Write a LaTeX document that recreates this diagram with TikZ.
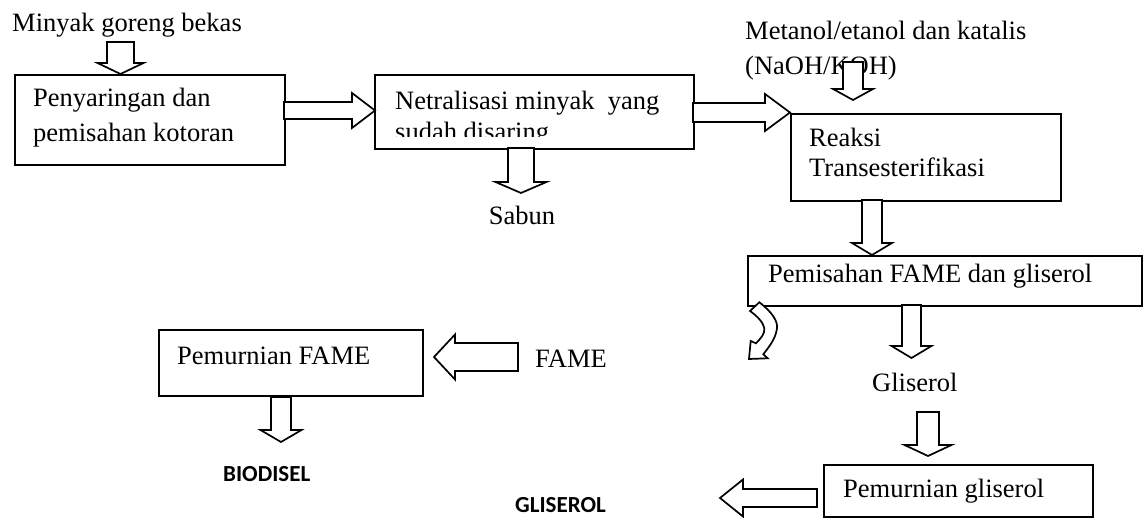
\documentclass[tikz,border=0pt]{standalone}
\usepackage{fontspec}
\setmainfont{Liberation Serif}
\newfontfamily\calfont{Carlito}
\tikzset{
  blk/.style={draw=black, line width=1.7pt, fill=white, line join=miter},
  boxst/.style={draw=black, line width=1.8pt, rectangle, inner sep=0pt, anchor=north west},
  txt/.style={inner sep=0pt, anchor=base west, font=\fontsize{26.5}{30}\selectfont},
  btxt/.style={inner sep=0pt, anchor=base west, font=\calfont\bfseries\fontsize{23}{27}\selectfont}
}
% down block arrow: cx, half shaft, ytop, yhead, half head, ytip
\newcommand{\bdown}[6]{\draw[blk] ({#1-#2},#3) -- ({#1+#2},#3) -- ({#1+#2},#4) -- ({#1+#5},#4) -- (#1,#6) -- ({#1-#5},#4) -- ({#1-#2},#4) -- cycle;}
% horizontal block arrow: cy, half shaft, xtail, xhead, half head, xtip
\newcommand{\bhor}[6]{\draw[blk] (#3,{#1-#2}) -- (#4,{#1-#2}) -- (#4,{#1-#5}) -- (#6,#1) -- (#4,{#1+#5}) -- (#4,{#1+#2}) -- (#3,{#1+#2}) -- cycle;}
\begin{document}
\begin{tikzpicture}[x=1pt,y=-1pt]
\useasboundingbox (0,0) rectangle (1144,518);
\fill[white] (0,0) rectangle (1144,518);

% boxes
\node[boxst, minimum width=270pt, minimum height=90pt] (b1) at (14,74) {};
\node[boxst, minimum width=319pt, minimum height=74pt] (b2) at (374,74) {};
\node[boxst, minimum width=270pt, minimum height=87pt] (b3) at (790,113) {};
\node[boxst, minimum width=394pt, minimum height=50pt] (b4) at (747,255) {};
\node[boxst, minimum width=264pt, minimum height=66pt] (b5) at (158,329) {};
\node[boxst, minimum width=269pt, minimum height=52pt] (b6) at (823,464) {};

% texts
\node[txt] (tin) at (12,32) {Minyak goreng bekas};
\node[txt] (t1a) at (33,106.7) {Penyaringan dan};
\node[txt] (t1b) at (33,141.7) {pemisahan kotoran};
\node[txt] (t2a) at (395,110) {Netralisasi minyak \ yang};
\begin{scope}
\clip (374,74) rectangle (693,137);
\node[txt] (t2b) at (395,141) {sudah disaring};
\end{scope}
\node[txt] (tm1) at (745,40) {Metanol/etanol dan katalis};
\node[txt] (tm2) at (745,75) {(NaOH/KOH)};
\node[txt] (t3a) at (809,147) {Reaksi};
\node[txt] (t3b) at (809,177) {Transesterifikasi};
\node[txt, anchor=base] (tsab) at (522,224.5) {Sabun};
\node[txt] (t4) at (768,283) {Pemisahan FAME dan gliserol};
\node[txt] (t5) at (177,365) {Pemurnian FAME};
\node[txt] (tfame) at (535,368) {FAME};
\node[txt] (tgl) at (872,392) {Gliserol};
\node[txt] (t6) at (843,498) {Pemurnian gliserol};
\node[btxt] (tbio) at (223,482) {BIODISEL};
\node[btxt] (tglis) at (515,512) {GLISEROL};

% block arrows
\bdown{120.5}{13.5}{42}{63}{23}{74}
\bhor{110.5}{8.5}{284}{352}{17.5}{375}
\bdown{521}{13}{148}{182}{25.5}{193}
\bhor{112.5}{9.5}{693}{765}{18.5}{790}
\bdown{853}{10}{62}{89}{20}{100}
\bdown{872}{10}{200}{243}{20}{255}
\bdown{911.5}{9.5}{305}{346}{20}{358}
\bdown{928}{11}{412}{445}{23.5}{456}
\bdown{281}{10}{397}{430}{20.5}{442}
\bhor{357}{14}{518}{455}{22.5}{434}
\bhor{498}{9}{817}{743}{18.5}{720}

% curved arrow
\draw[blk] (759.3,302.3) .. controls (772,312) and (779,322) .. (776.7,330)
  .. controls (775,340) and (768,348) .. (763.3,354.3) -- (767.7,358.3) -- (749,359)
  -- (750.7,341) -- (756,343.3) .. controls (761,338) and (765,334) .. (764.3,328)
  .. controls (763,322) and (757,316) .. (750,311) -- cycle;
\end{tikzpicture}
\end{document}
